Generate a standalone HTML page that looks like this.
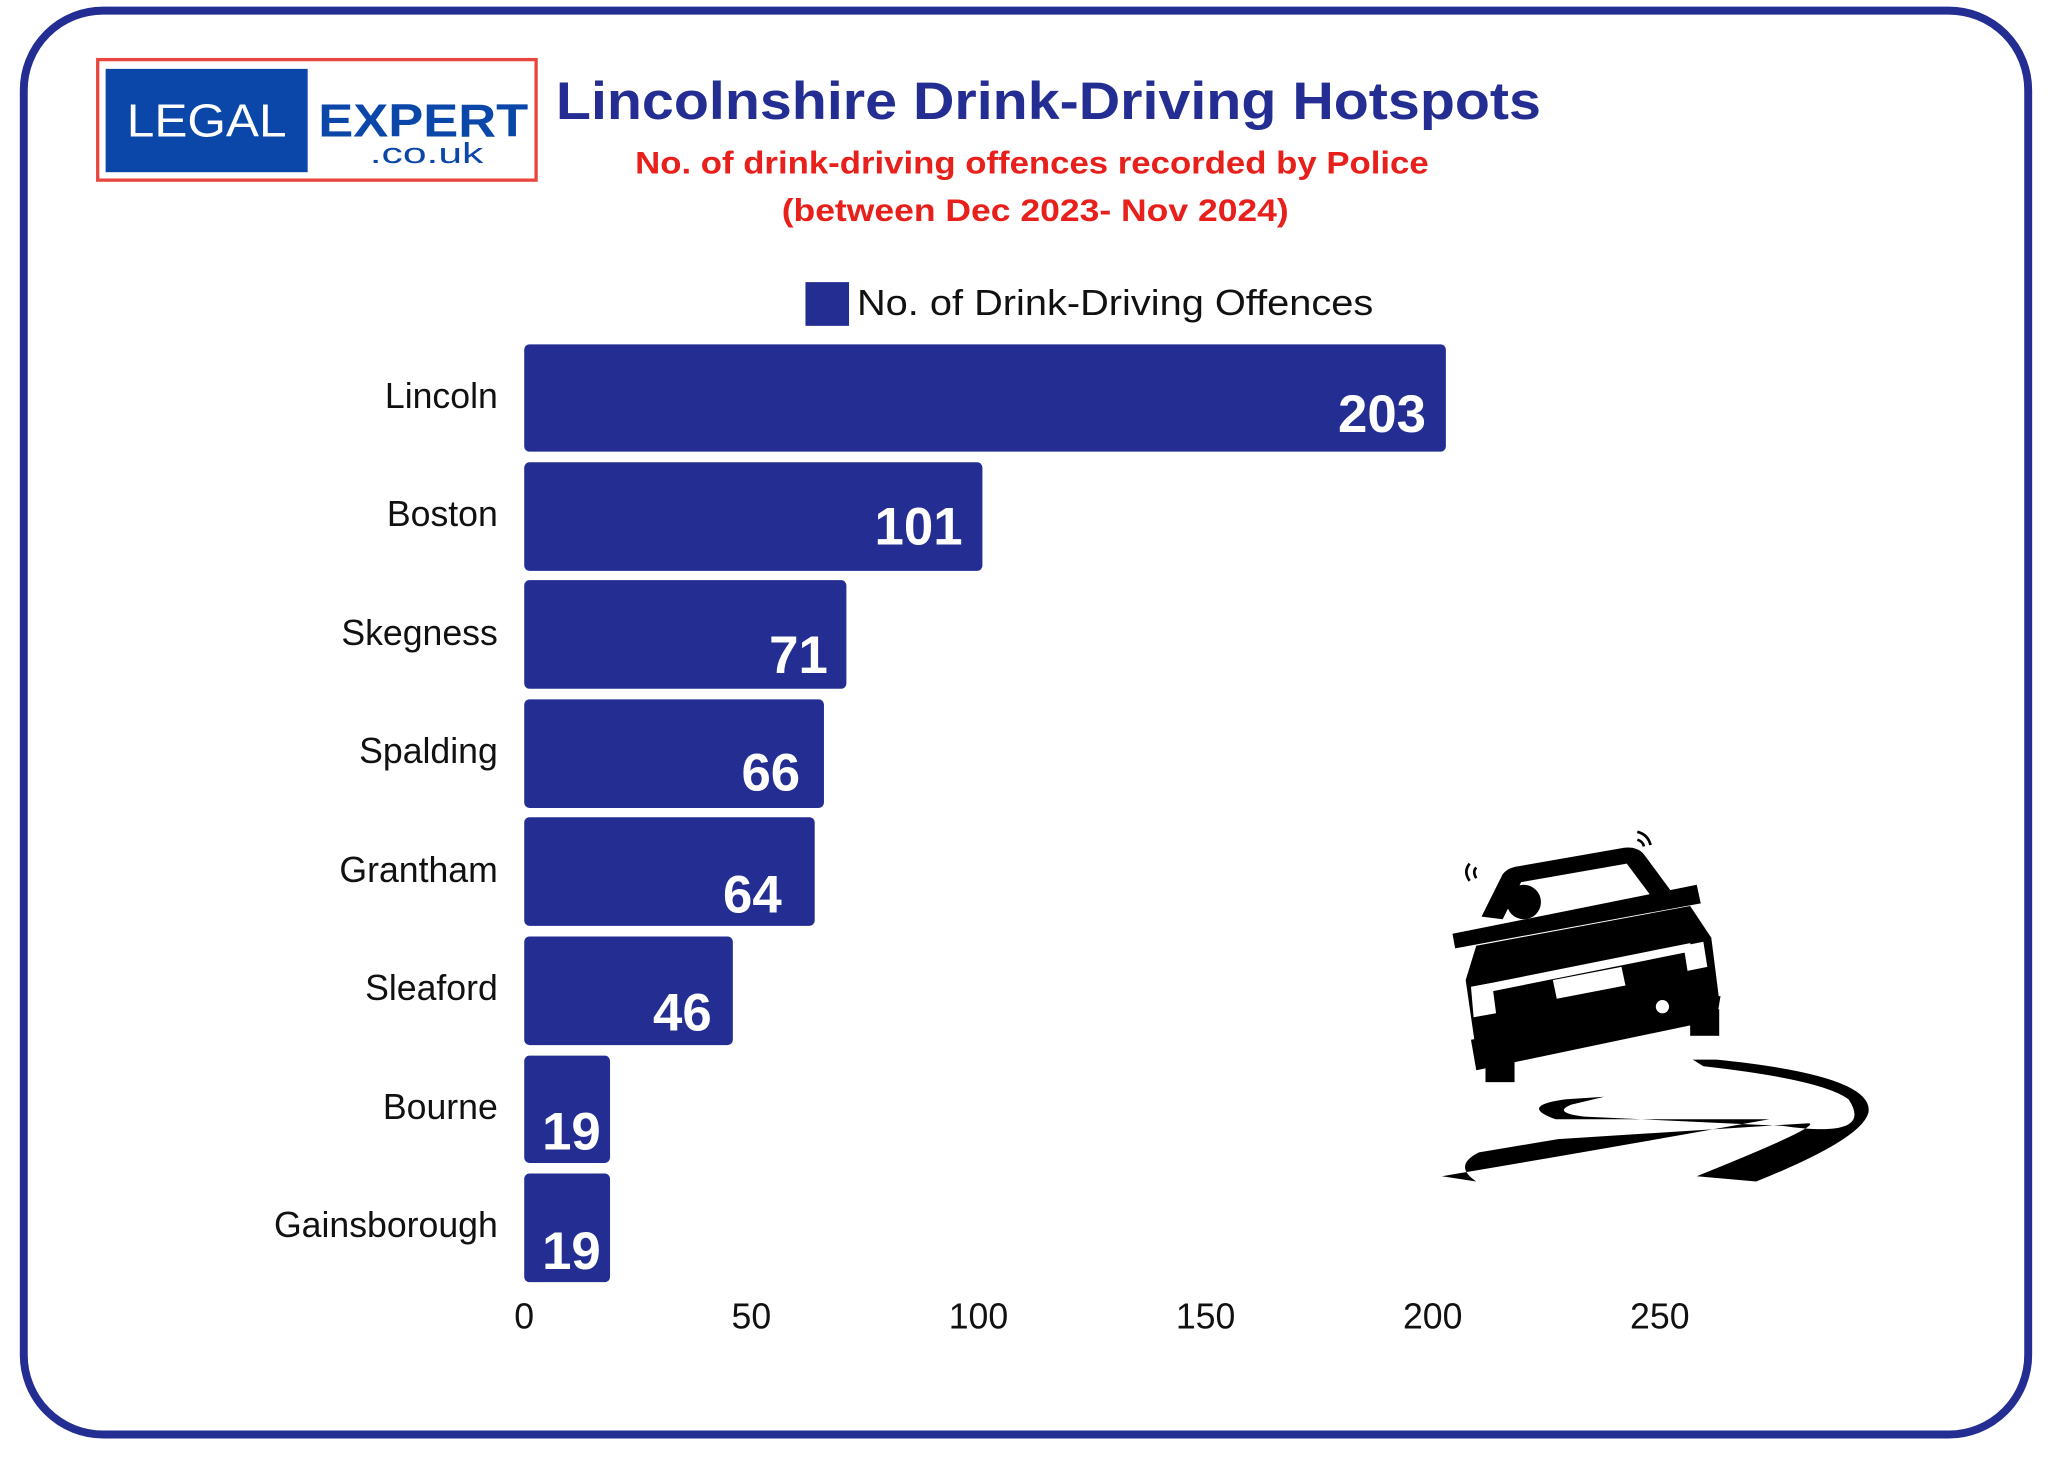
<!DOCTYPE html>
<html><head><meta charset="utf-8"><style>
html,body{margin:0;padding:0;background:#fff;}
svg{display:block;}
text{font-family:"Liberation Sans",sans-serif;}
</style></head><body>
<svg width="2048" height="1457" viewBox="0 0 1551 1100" preserveAspectRatio="none" xmlns="http://www.w3.org/2000/svg">
<rect x="0" y="0" width="1551" height="1100" fill="#fff"/>
<rect x="18" y="8" width="1518" height="1075" rx="60" ry="60" fill="none" stroke="#232d92" stroke-width="6"/>
<!-- logo -->
<rect x="74" y="45" width="332" height="91" fill="#fff" stroke="#e8453c" stroke-width="2.5"/>
<rect x="80" y="52" width="153" height="78" fill="#0a47a9"/>
<text x="96" y="103" font-size="35" fill="#fff" textLength="121" lengthAdjust="spacingAndGlyphs">LEGAL</text>
<text x="241" y="103" font-size="35" font-weight="bold" fill="#0a47a9" textLength="159" lengthAdjust="spacingAndGlyphs">EXPERT</text>
<text x="280" y="123" font-size="22" fill="#0a47a9" textLength="86" lengthAdjust="spacingAndGlyphs">.co.uk</text>
<!-- titles -->
<text x="421" y="90" font-size="40" font-weight="bold" fill="#232d92" textLength="746" lengthAdjust="spacingAndGlyphs">Lincolnshire Drink-Driving Hotspots</text>
<text x="481" y="131" font-size="24" font-weight="bold" fill="#e8201c" textLength="601" lengthAdjust="spacingAndGlyphs">No. of drink-driving offences recorded by Police</text>
<text x="592" y="167" font-size="24" font-weight="bold" fill="#e8201c" textLength="384" lengthAdjust="spacingAndGlyphs">(between Dec 2023- Nov 2024)</text>
<!-- legend -->
<rect x="610" y="213" width="33" height="33" fill="#232d92"/>
<text x="649" y="238" font-size="27" fill="#111" textLength="391" lengthAdjust="spacingAndGlyphs">No. of Drink-Driving Offences</text>
<!-- bars -->
<g fill="#232d92">
<rect x="397" y="260" width="698" height="81" rx="4"/>
<rect x="397" y="349" width="347" height="82" rx="4"/>
<rect x="397" y="438" width="244" height="82" rx="4"/>
<rect x="397" y="528" width="227" height="82" rx="4"/>
<rect x="397" y="617" width="220" height="82" rx="4"/>
<rect x="397" y="707" width="158" height="82" rx="4"/>
<rect x="397" y="797" width="65" height="81" rx="4"/>
<rect x="397" y="886" width="65" height="82" rx="4"/>
</g>
<g font-size="40" font-weight="bold" fill="#fff" text-anchor="end">
<text x="1080" y="326">203</text>
<text x="729" y="411">101</text>
<text x="627" y="508">71</text>
<text x="606" y="597">66</text>
<text x="592" y="689">64</text>
<text x="539" y="778">46</text>
<text x="455" y="868">19</text>
<text x="455" y="958">19</text>
</g>
<g font-size="27" fill="#111" text-anchor="end">
<text x="377" y="308">Lincoln</text>
<text x="377" y="397">Boston</text>
<text x="377" y="487">Skegness</text>
<text x="377" y="576">Spalding</text>
<text x="377" y="666">Grantham</text>
<text x="377" y="755">Sleaford</text>
<text x="377" y="845">Bourne</text>
<text x="377" y="934">Gainsborough</text>
</g>
<g font-size="27" fill="#111" text-anchor="middle">
<text x="397" y="1003">0</text>
<text x="569" y="1003">50</text>
<text x="741" y="1003">100</text>
<text x="913" y="1003">150</text>
<text x="1085" y="1003">200</text>
<text x="1257" y="1003">250</text>
</g>
<!-- car -->
<g fill="#000">
<path d="M1122,692 L1138,660 Q1142,655 1150,654 L1230,640 Q1240,639 1245,645 L1265,672 L1250,676 L1232,652 L1152,666 L1138,694 Z"/>
<circle cx="1154" cy="681" r="13"/>
<path d="M1100,705 L1285,668 L1288,682 L1102,716 Z"/>
<path d="M1118,714 L1280,684 L1296,708 L1302,755 L1118,795 L1110,740 Z"/>
<path d="M1114,785 L1303,752 L1300,770 L1118,808 Z"/>
<rect x="1125" y="795" width="22" height="22"/>
<rect x="1280" y="762" width="22" height="20"/>
<path d="M1178,845 Q1150,835 1185,830 L1215,828 L1190,834 Q1175,840 1200,843 L1350,850 Q1420,860 1400,830 Q1380,815 1290,805 L1282,800 L1300,800 Q1420,812 1415,840 Q1410,860 1330,892 L1285,888 Q1380,850 1370,848 L1180,860 L1120,870 Q1100,880 1118,892 L1092,888 Q1200,870 1340,845 Z"/>
</g>
<g fill="#fff">
<path d="M1115,745 L1280,712 L1282,718 L1117,751 Z"/>
<path d="M1176,740 L1228,730 L1231,744 L1179,754 Z"/>
<path d="M1114,745 L1130,742 L1133,765 L1116,768 Z"/>
<path d="M1275,714 L1290,711 L1293,730 L1278,733 Z"/>
<circle cx="1259" cy="760" r="5"/>
</g>
<g fill="none" stroke="#000" stroke-width="2">
<path d="M1113,665 Q1108,658 1113,652"/><path d="M1118,663 Q1115,658 1118,655"/>
<path d="M1240,628 Q1248,630 1250,638"/><path d="M1240,634 Q1244,635 1245,639"/>
</g>
</svg>
</body></html>
